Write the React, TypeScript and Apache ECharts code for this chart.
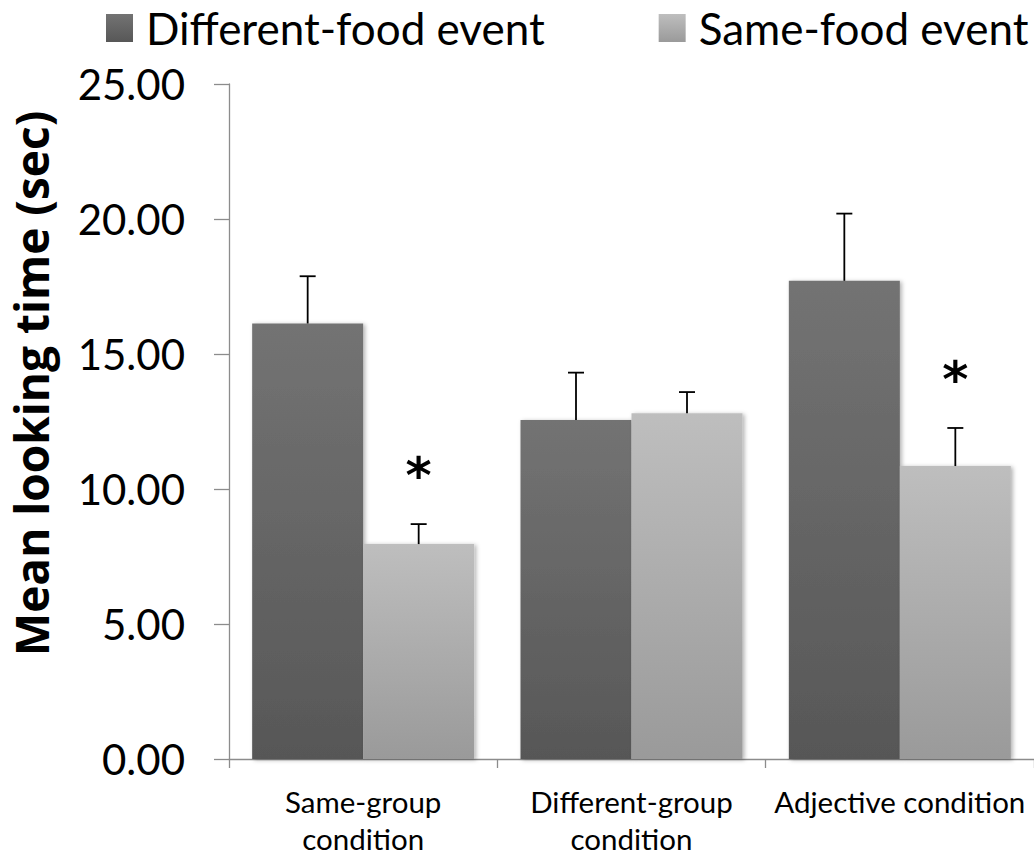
import React, { useEffect, useRef } from "react";
import * as echarts from "echarts";

const categories = ["Same-group\ncondition", "Different-group\ncondition", "Adjective condition"];
const seriesNames = ["Different-food event", "Same-food event"];
const diffFood = [16.13, 12.56, 17.71];
const sameFood = [7.96, 12.81, 10.85];
const diffFoodErr = [1.75, 1.75, 2.49];
const sameFoodErr = [0.74, 0.78, 1.41];
const sigMarks = ["", "", ""];
const sameSigMarks = ["*", "", "*"];
const yTicks = { min: 0, max: 25, interval: 5 };

const BAR_W = 111;
const FONT = "Lato, 'Open Sans', sans-serif";

const darkGrad = () =>
  new echarts.graphic.LinearGradient(0, 0, 0, 1, [
    { offset: 0, color: "#737373" },
    { offset: 1, color: "#575757" },
  ]);
const lightGrad = () =>
  new echarts.graphic.LinearGradient(0, 0, 0, 1, [
    { offset: 0, color: "#bebebe" },
    { offset: 1, color: "#9a9a9a" },
  ]);

function errSeries(values: number[], errs: number[], marks: string[], offset: number) {
  return {
    type: "custom",
    silent: true,
    z: 5,
    data: values.map((v, i) => [i, v, v + errs[i]]),
    renderItem: (params: any, api: any) => {
      const i = api.value(0);
      const base = api.coord([i, api.value(1)]);
      const top = api.coord([i, api.value(2)]);
      const x = base[0] + offset;
      const children: any[] = [
        { type: "line", shape: { x1: x, y1: base[1], x2: x, y2: top[1] }, style: { stroke: "#000", lineWidth: 1.8 } },
        { type: "line", shape: { x1: x - 8, y1: top[1], x2: x + 8, y2: top[1] }, style: { stroke: "#000", lineWidth: 1.8 } },
      ];
      const mark = marks[params.dataIndex];
      if (mark) {
        children.push({
          type: "text",
          style: {
            text: mark,
            x: x,
            y: top[1] - 48,
            align: "center",
            verticalAlign: "middle",
            font: "bold 50px 'DejaVu Sans', sans-serif",
            fill: "#000",
          },
        });
      }
      return { type: "group", children };
    },
  };
}

export default function App() {
  const ref = useRef<HTMLDivElement>(null);
  useEffect(() => {
    if (!ref.current) return;
    const chart = echarts.init(ref.current, null, { renderer: "svg" });
    const shadow = { shadowBlur: 4, shadowOffsetX: 2, shadowOffsetY: 1, shadowColor: "rgba(0,0,0,0.3)" };
    chart.setOption({
      animation: false,
      backgroundColor: "#fff",
      textStyle: { fontFamily: FONT },
      legend: {
        top: 6,
        left: 106,
        width: 928,
        icon: "rect",
        itemWidth: 27,
        itemHeight: 28,
        itemGap: 114,
        padding: 0,
        textStyle: { fontSize: 44, color: "#000", fontFamily: FONT, padding: [0, 0, 0, 8] },
        data: seriesNames,
      },
      grid: { left: 225, top: 84, bottom: 94, width: 816, containLabel: false },
      xAxis: {
        type: "category",
        data: categories,
        axisLine: { lineStyle: { color: "#8c8c8c", width: 1.3 } },
        axisTick: { show: true, length: 9, lineStyle: { color: "#8c8c8c", width: 1.3 } },
        axisLabel: { fontSize: 29.5, color: "#000", margin: 24, lineHeight: 37, fontFamily: FONT, interval: 0 },
      },
      yAxis: {
        type: "value",
        min: yTicks.min,
        max: yTicks.max,
        interval: yTicks.interval,
        name: "Mean looking time (sec)",
        nameLocation: "middle",
        nameGap: 175,
        nameTextStyle: { fontSize: 46, fontWeight: "bold", color: "#000", fontFamily: "'Open Sans', sans-serif", padding: [0, 0, 0, 76] },
        splitLine: { show: false },
        axisLine: { show: true, lineStyle: { color: "#8c8c8c", width: 1.3 } },
        axisTick: { show: true, length: 15, lineStyle: { color: "#8c8c8c", width: 1.3 } },
        axisLabel: { fontSize: 42, color: "#000", margin: 44, fontFamily: FONT, formatter: (v: number) => v.toFixed(2) },
      },
      series: [
        { name: seriesNames[0], type: "bar", data: diffFood, barWidth: BAR_W, barGap: "0%", itemStyle: { color: darkGrad(), ...shadow } },
        { name: seriesNames[1], type: "bar", data: sameFood, barWidth: BAR_W, barGap: "0%", itemStyle: { color: lightGrad(), ...shadow } },
        errSeries(diffFood, diffFoodErr, sigMarks, -BAR_W / 2),
        errSeries(sameFood, sameFoodErr, sameSigMarks, BAR_W / 2),
      ],
    });
    return () => chart.dispose();
  }, []);
  return <div ref={ref} style={{ position: "fixed", left: 0, top: 0, width: 1034, height: 857 }} />;
}
